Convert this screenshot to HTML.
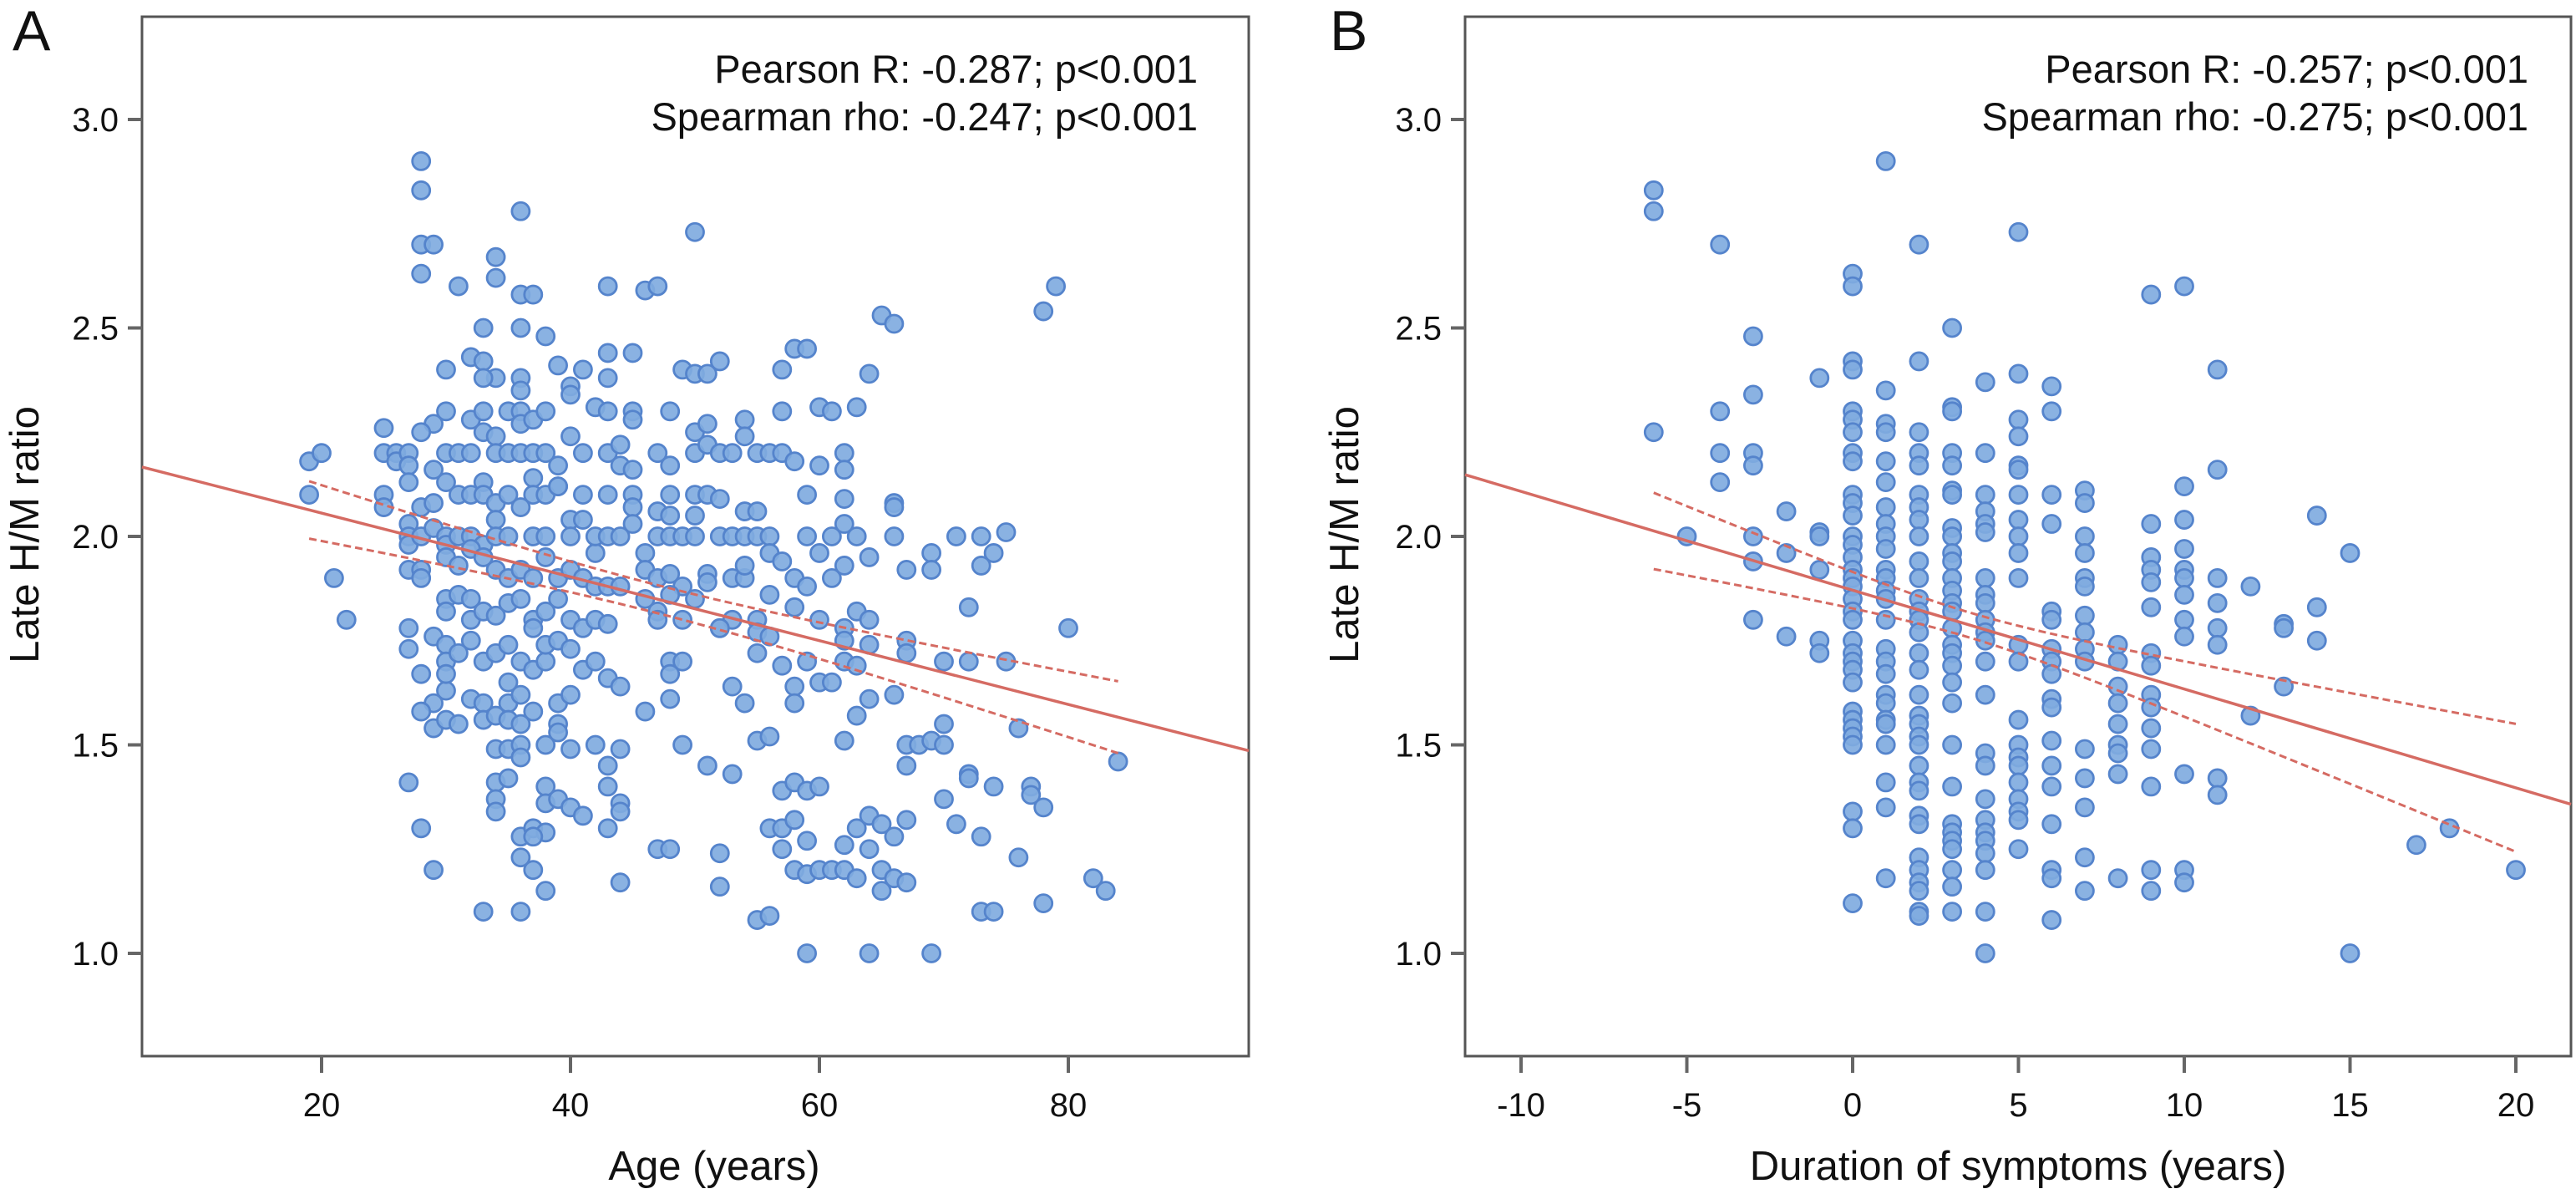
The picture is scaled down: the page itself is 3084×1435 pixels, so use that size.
<!DOCTYPE html>
<html><head><meta charset="utf-8"><style>
html,body{margin:0;padding:0;background:#fff}
svg{display:block}
text{font-family:"Liberation Sans",Arial,sans-serif;fill:#111}
</style></head><body>
<svg id="fig" width="3084" height="1435" viewBox="0 0 3084 1435" xmlns="http://www.w3.org/2000/svg">
<g id="pa"></g>
<g id="pb"></g>
</svg>
<script>
const yTicks = [1.0, 1.5, 2.0, 2.5, 3.0];
const yTickLabels = ["1.0", "1.5", "2.0", "2.5", "3.0"];
const ageTicks = [20, 40, 60, 80];
const ageTickLabels = ["20", "40", "60", "80"];
const durTicks = [-10, -5, 0, 5, 10, 15, 20];
const durTickLabels = ["-10", "-5", "0", "5", "10", "15", "20"];
const statsA = ["Pearson R: -0.287; p<0.001", "Spearman rho: -0.247; p<0.001"];
const statsB = ["Pearson R: -0.257; p<0.001", "Spearman rho: -0.275; p<0.001"];
const fitA = [2.209, -0.00765];
const ciA = [0.00113, 0.0000046, 47];
const ciRangeA = [19, 84];
const fitB = [1.871, -0.0237];
const ciB = [0.0009, 0.000083, 3.5];
const ciRangeB = [-6, 20];

const pointsA = [
[28,2.90],[28,2.83],[28,2.70],[29,2.70],[28,2.63],[36,2.78],[34,2.67],[34,2.62],[31,2.60],[36,2.58],[37,2.58],[43,2.60],[46,2.59],[47,2.60],[50,2.73],[33,2.50],[36,2.50],[38,2.48],[65,2.53],[66,2.51],[78,2.54],[79,2.60],
[32,2.43],[33,2.42],[34,2.38],[30,2.40],[39,2.41],[41,2.40],[43,2.44],[45,2.44],[43,2.38],[40,2.36],[40,2.34],[36,2.38],[36,2.35],[33,2.38],[49,2.40],[50,2.39],[51,2.39],[52,2.42],[57,2.40],[58,2.45],[59,2.45],[64,2.39],
[30,2.30],[29,2.27],[28,2.25],[32,2.28],[33,2.30],[33,2.25],[34,2.24],[35,2.30],[36,2.30],[36,2.27],[37,2.28],[38,2.30],[40,2.24],[42,2.31],[43,2.30],[45,2.30],[45,2.28],[48,2.30],[50,2.25],[51,2.27],[54,2.28],[54,2.24],[57,2.30],[60,2.31],[61,2.30],[63,2.31],
[25,2.26],[25,2.20],[26,2.20],[26,2.18],[27,2.20],[27,2.17],[27,2.13],[29,2.16],[30,2.20],[31,2.20],[32,2.20],[34,2.20],[35,2.20],[36,2.20],[37,2.20],[38,2.20],[37,2.14],[39,2.17],[39,2.12],[41,2.20],[43,2.20],[44,2.22],[44,2.17],[45,2.16],[47,2.20],[48,2.17],[50,2.20],[51,2.22],[52,2.20],[53,2.20],[55,2.20],[56,2.20],[57,2.20],[58,2.18],[60,2.17],[62,2.20],[62,2.16],[19,2.18],[20,2.20],
[19,2.10],[25,2.10],[25,2.07],[27,2.03],[28,2.07],[29,2.08],[30,2.13],[31,2.10],[32,2.10],[33,2.13],[33,2.10],[34,2.08],[34,2.04],[35,2.10],[36,2.07],[37,2.10],[38,2.10],[39,2.12],[40,2.04],[41,2.04],[41,2.10],[43,2.10],[45,2.10],[45,2.07],[45,2.03],[47,2.06],[48,2.10],[48,2.05],[50,2.10],[51,2.10],[52,2.09],[50,2.05],[54,2.06],[55,2.06],[59,2.10],[62,2.09],[62,2.03],[66,2.08],[66,2.07],
[27,2.00],[27,1.98],[28,2.00],[29,2.02],[30,2.00],[30,1.98],[31,2.00],[32,2.00],[33,1.98],[34,2.00],[35,2.00],[37,2.00],[38,2.00],[40,2.00],[42,1.96],[42,2.00],[43,2.00],[44,2.00],[46,1.96],[47,2.00],[48,2.00],[49,2.00],[50,2.00],[52,2.00],[53,2.00],[54,2.00],[55,2.00],[56,2.00],[56,1.96],[59,2.00],[60,1.96],[61,2.00],[63,2.00],[66,2.00],[69,1.96],[71,2.00],[73,2.00],[75,2.01],[74,1.96],[73,1.93],
[21,1.90],[27,1.92],[28,1.92],[28,1.90],[30,1.95],[31,1.93],[32,1.97],[33,1.95],[34,1.92],[35,1.90],[36,1.92],[37,1.90],[38,1.95],[39,1.90],[40,1.92],[41,1.90],[42,1.88],[43,1.88],[44,1.88],[46,1.92],[47,1.90],[48,1.91],[49,1.88],[51,1.91],[51,1.89],[53,1.90],[54,1.90],[54,1.93],[56,1.86],[57,1.94],[58,1.90],[59,1.88],[61,1.90],[62,1.93],[64,1.95],[67,1.92],[69,1.92],
[22,1.80],[30,1.85],[30,1.82],[31,1.86],[32,1.85],[32,1.80],[33,1.82],[34,1.81],[35,1.84],[36,1.85],[37,1.80],[37,1.78],[38,1.82],[39,1.85],[40,1.80],[41,1.78],[42,1.80],[43,1.79],[46,1.85],[47,1.82],[47,1.80],[48,1.86],[49,1.80],[50,1.85],[52,1.78],[53,1.80],[55,1.80],[55,1.77],[56,1.76],[58,1.83],[60,1.80],[62,1.78],[63,1.82],[64,1.80],[62,1.75],[64,1.74],[67,1.75],[67,1.72],[72,1.83],[80,1.78],
[27,1.78],[27,1.73],[29,1.76],[30,1.74],[30,1.70],[31,1.72],[32,1.75],[33,1.70],[34,1.72],[35,1.74],[36,1.70],[37,1.68],[38,1.70],[38,1.74],[39,1.75],[40,1.73],[41,1.68],[42,1.70],[43,1.66],[48,1.70],[48,1.67],[49,1.70],[52,1.78],[55,1.72],[57,1.69],[59,1.70],[62,1.70],[63,1.69],[70,1.70],[72,1.70],[75,1.70],
[28,1.67],[29,1.60],[30,1.63],[30,1.67],[32,1.61],[33,1.60],[35,1.65],[35,1.60],[36,1.62],[37,1.58],[39,1.60],[40,1.62],[44,1.64],[46,1.58],[48,1.61],[53,1.64],[54,1.60],[58,1.64],[58,1.60],[60,1.65],[61,1.65],[63,1.57],[64,1.61],[66,1.62],
[28,1.58],[29,1.54],[30,1.56],[31,1.55],[33,1.56],[34,1.57],[35,1.56],[36,1.55],[34,1.49],[35,1.49],[36,1.50],[36,1.47],[38,1.50],[39,1.55],[39,1.53],[40,1.49],[42,1.50],[43,1.45],[44,1.49],[49,1.50],[55,1.51],[56,1.52],[62,1.51],[67,1.50],[68,1.50],[69,1.51],[70,1.50],[70,1.55],[76,1.54],[51,1.45],[53,1.43],[84,1.46],
[27,1.41],[34,1.41],[34,1.37],[34,1.34],[35,1.42],[38,1.40],[38,1.36],[39,1.37],[40,1.35],[41,1.33],[43,1.40],[44,1.36],[44,1.34],[57,1.39],[58,1.41],[59,1.39],[60,1.40],[67,1.45],[70,1.37],[72,1.43],[72,1.42],[74,1.40],[77,1.40],[77,1.38],[78,1.35],
[28,1.30],[36,1.28],[37,1.30],[38,1.29],[37,1.28],[43,1.30],[56,1.30],[57,1.30],[58,1.32],[59,1.27],[63,1.30],[64,1.33],[65,1.31],[66,1.28],[67,1.32],[71,1.31],[73,1.28],[62,1.26],
[29,1.20],[36,1.23],[37,1.20],[38,1.15],[44,1.17],[47,1.25],[48,1.25],[52,1.24],[52,1.16],[57,1.25],[58,1.20],[59,1.19],[60,1.20],[61,1.20],[62,1.20],[63,1.18],[64,1.25],[65,1.20],[65,1.15],[66,1.18],[67,1.17],[76,1.23],[82,1.18],[83,1.15],[78,1.12],
[33,1.10],[36,1.10],[55,1.08],[56,1.09],[73,1.10],[74,1.10],[59,1.00],[64,1.00],[69,1.00]
];

const durationGroups = [-6,-5,-4,-3,-2,-1,0,1,2,3,4,5,6,7,8,9,10,11,12,13,14,15,17,18,20];
const ratioGroupsB = [
[2.83,2.78,2.25],[2.00],[2.70,2.30,2.20,2.13],[2.48,2.34,2.20,2.17,2.00,1.94,1.80],[2.06,1.96,1.76],[2.38,2.01,2.00,1.92,1.75,1.72],
[2.63,2.60,2.42,2.40,2.30,2.28,2.25,2.20,2.18,2.10,2.08,2.05,2.00,1.98,1.95,1.92,1.90,1.88,1.85,1.82,1.80,1.75,1.72,1.70,1.68,1.65,1.58,1.56,1.54,1.52,1.50,1.34,1.30,1.12],
[2.90,2.35,2.27,2.25,2.18,2.13,2.07,2.03,2.00,1.97,1.92,1.90,1.87,1.85,1.80,1.73,1.70,1.67,1.62,1.60,1.56,1.55,1.50,1.41,1.35,1.18],
[2.70,2.42,2.25,2.20,2.17,2.10,2.07,2.04,2.00,1.94,1.90,1.85,1.82,1.80,1.77,1.72,1.68,1.62,1.57,1.55,1.52,1.50,1.45,1.41,1.39,1.33,1.31,1.23,1.20,1.17,1.15,1.10,1.09],
[2.50,2.31,2.30,2.20,2.17,2.11,2.10,2.02,2.00,1.96,1.94,1.90,1.87,1.84,1.82,1.78,1.74,1.72,1.69,1.65,1.60,1.50,1.40,1.31,1.29,1.27,1.25,1.20,1.16,1.10],
[2.37,2.20,2.10,2.06,2.03,2.01,1.90,1.86,1.84,1.80,1.77,1.75,1.70,1.62,1.48,1.45,1.37,1.32,1.29,1.27,1.24,1.20,1.10,1.00],
[2.73,2.39,2.28,2.24,2.17,2.16,2.10,2.04,2.00,1.96,1.90,1.74,1.70,1.56,1.50,1.47,1.45,1.41,1.37,1.34,1.32,1.25],
[2.36,2.30,2.10,2.03,1.82,1.80,1.73,1.70,1.67,1.61,1.59,1.51,1.45,1.40,1.31,1.20,1.18,1.08],
[2.11,2.08,2.00,1.96,1.90,1.88,1.81,1.77,1.73,1.70,1.49,1.42,1.35,1.23,1.15],
[1.74,1.70,1.64,1.60,1.55,1.50,1.48,1.43,1.18],
[2.58,2.03,1.95,1.92,1.89,1.83,1.72,1.69,1.62,1.59,1.54,1.49,1.40,1.20,1.15],
[2.60,2.12,2.04,1.97,1.92,1.90,1.86,1.80,1.76,1.43,1.20,1.17],
[2.40,2.16,1.90,1.84,1.78,1.74,1.42,1.38],
[1.88,1.57],[1.79,1.78,1.64],[2.05,1.83,1.75],[1.96,1.00],[1.26],[1.30],[1.20]
];

const NS = "http://www.w3.org/2000/svg";
const Y = v => 1141 - (v - 1) * 499;
const XA = v => 385 + (v - 20) * 14.9;
const XB = v => 1821 + (v + 10) * 39.7;

function mk(tag, attrs, parent) {
  const e = document.createElementNS(NS, tag);
  for (const k in attrs) e.setAttribute(k, attrs[k]);
  parent.appendChild(e);
  return e;
}

function drawPanel(g, opt) {
  const fr = mk("rect", {x: opt.l, y: 20, width: opt.r - opt.l, height: 1264 - 20, fill: "none", stroke: "#555", "stroke-width": 3}, g);
  
  
  const lt = mk("text", {x: opt.letterX, y: 60, "font-size": 68}, g);
  lt.textContent = opt.letter;
  
  
  yTicks.forEach((v, i) => {
    const t = mk("line", {x1: opt.l - 17, x2: opt.l, y1: Y(v), y2: Y(v), stroke: "#666", "stroke-width": 4}, g);
    
    
    const tl = mk("text", {x: opt.l - 28, y: Y(v) + 14, "font-size": 40, "text-anchor": "end"}, g);
    tl.textContent = yTickLabels[i];
    
    
  });
  opt.xTicks.forEach((v, i) => {
    const t = mk("line", {x1: opt.X(v), x2: opt.X(v), y1: 1264, y2: 1284, stroke: "#666", "stroke-width": 4}, g);
    
    
    const tl = mk("text", {x: opt.X(v), y: 1336, "font-size": 40, "text-anchor": "middle"}, g);
    tl.textContent = opt.xLabels[i];
    
    
  });
  const xt = mk("text", {x: opt.xTitleX, y: 1412, "font-size": 49, "text-anchor": "middle"}, g);
  xt.textContent = opt.xTitle;
  
  
  const yt = mk("text", {x: 0, y: 0, "font-size": 49, "text-anchor": "middle", transform: `translate(${opt.yTitleX},640) rotate(-90)`}, g);
  yt.textContent = "Late H/M ratio";
  
  
  opt.stats.forEach((s, i) => {
    const st = mk("text", {x: opt.statsX, y: 99 + i * 57, "font-size": 47, "text-anchor": "end"}, g);
    st.textContent = s;
    
    
  });
  const dots = mk("g", {}, g);
  
  
  opt.pts.forEach(p => {
    const c = mk("circle", {cx: opt.X(p[0]), cy: Y(p[1]), r: 10.5, fill: "#80abe0", stroke: "#5584cc", "stroke-width": 2.8, "fill-opacity": 0.92}, dots);
    
    
  });
  const f = v => opt.fit[0] + opt.fit[1] * v;
  const fl = mk("line", {x1: opt.l, y1: Y(f(opt.xmin)), x2: opt.r, y2: Y(f(opt.xmax)), stroke: "#d56b63", "stroke-width": 3.5}, g);
  
  
  [1, -1].forEach(sgn => {
    let d = "";
    const n = 40;
    for (let i = 0; i <= n; i++) {
      const v = opt.ciRange[0] + (opt.ciRange[1] - opt.ciRange[0]) * i / n;
      const h = Math.sqrt(opt.ci[0] + opt.ci[1] * (v - opt.ci[2]) ** 2);
      d += (i ? "L" : "M") + opt.X(v).toFixed(1) + "," + Y(f(v) + sgn * h).toFixed(1);
    }
    const cp = mk("path", {d: d, fill: "none", stroke: "#d56b63", "stroke-width": 3, "stroke-dasharray": "9,5"}, g);
    
    
  });
}

const ptsB = [];
durationGroups.forEach((d, i) => ratioGroupsB[i].forEach(r => ptsB.push([d, r])));

drawPanel(document.getElementById("pa"), {
  l: 170, r: 1495, letter: "A", letterX: 15, X: XA, xTicks: ageTicks, xLabels: ageTickLabels,
  xTitle: "Age (years)", xTitleX: 855, yTitleX: 46, stats: statsA, statsX: 1434,
  pts: pointsA, fit: fitA, ci: ciA, ciRange: ciRangeA,
  xmin: 20 + (170 - 385) / 14.9, xmax: 20 + (1495 - 385) / 14.9
});
drawPanel(document.getElementById("pb"), {
  l: 1754, r: 3078, letter: "B", letterX: 1592, X: XB, xTicks: durTicks, xLabels: durTickLabels,
  xTitle: "Duration of symptoms (years)", xTitleX: 2416, yTitleX: 1626, stats: statsB, statsX: 3027,
  pts: ptsB, fit: fitB, ci: ciB, ciRange: ciRangeB,
  xmin: (1754 - 1821) / 39.7 - 10, xmax: (3078 - 1821) / 39.7 - 10
});
</script>
</body></html>
